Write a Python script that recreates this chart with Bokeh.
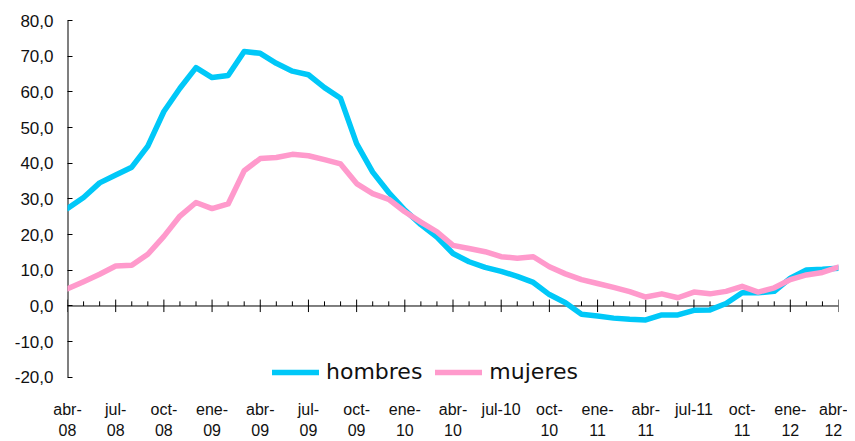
from bokeh.plotting import figure
from bokeh.models import Range1d, FixedTicker, Legend, LegendItem
from bokeh.embed import file_html
from bokeh.resources import INLINE

# Monthly series, abr-08 .. abr-12
months = ["abr-08", "may-08", "jun-08", "jul-08", "ago-08", "sep-08", "oct-08", "nov-08", "dic-08",
          "ene-09", "feb-09", "mar-09", "abr-09", "may-09", "jun-09", "jul-09", "ago-09", "sep-09",
          "oct-09", "nov-09", "dic-09", "ene-10", "feb-10", "mar-10", "abr-10", "may-10", "jun-10",
          "jul-10", "ago-10", "sep-10", "oct-10", "nov-10", "dic-10", "ene-11", "feb-11", "mar-11",
          "abr-11", "may-11", "jun-11", "jul-11", "ago-11", "sep-11", "oct-11", "nov-11", "dic-11",
          "ene-12", "feb-12", "mar-12", "abr-12"]

hombres = [27.3, 30.4, 34.5, 36.7, 38.9, 44.8, 54.5, 61.0, 66.8, 64.0, 64.6, 71.3, 70.8,
           68.0, 65.8, 64.8, 61.2, 58.2, 45.5, 37.5, 31.8, 26.9, 22.8, 19.3, 14.7, 12.4,
           10.8, 9.7, 8.3, 6.6, 3.2, 0.9, -2.3, -2.8, -3.4, -3.7, -3.9, -2.5, -2.5, -1.2,
           -1.1, 0.7, 3.7, 3.7, 4.1, 7.8, 10.1, 10.3, 10.6]

mujeres = [4.8, 6.8, 8.9, 11.2, 11.4, 14.5, 19.5, 25.2, 29.0, 27.3, 28.6, 37.9, 41.3,
           41.6, 42.5, 42.1, 41.0, 39.8, 34.3, 31.5, 29.9, 26.4, 23.5, 20.8, 17.0, 16.1,
           15.2, 13.8, 13.4, 13.8, 11.0, 9.0, 7.4, 6.3, 5.2, 4.0, 2.5, 3.4, 2.3, 3.9,
           3.4, 4.1, 5.5, 3.9, 5.1, 7.4, 8.7, 9.4, 10.9]

x_tick_labels = ["abr-\n08", "jul-\n08", "oct-\n08", "ene-\n09", "abr-\n09", "jul-\n09",
                 "oct-\n09", "ene-\n10", "abr-\n10", "jul-10", "oct-\n10", "ene-\n11",
                 "abr-\n11", "jul-11", "oct-\n11", "ene-\n12", "abr-\n12"]

y_ticks = [-20, -10, 0, 10, 20, 30, 40, 50, 60, 70, 80]
y_tick_labels = ["-20,0", "-10,0", "0,0", "10,0", "20,0", "30,0", "40,0", "50,0",
                 "60,0", "70,0", "80,0"]

x = list(range(len(months)))

p = figure(width=847, height=441, output_backend="svg", toolbar_location=None,
           x_range=Range1d(0, len(months) - 1), y_range=Range1d(-22, 80),
           min_border_left=67, min_border_right=9, min_border_top=20, min_border_bottom=52)
p.outline_line_color = None
p.grid.visible = False
p.background_fill_color = "white"
p.border_fill_color = "white"

# x axis: labels only, placed below the frame
major_x = x[::3]
p.xaxis.ticker = FixedTicker(ticks=major_x)
p.xaxis.major_label_overrides = {i: lab for i, lab in zip(major_x, x_tick_labels)}
p.xaxis.axis_line_color = None
p.xaxis.major_tick_line_color = None
p.xaxis.minor_tick_line_color = None
p.xaxis.major_label_standoff = 10
p.xaxis.major_label_text_font = "Liberation Sans"
p.xaxis.major_label_text_font_size = "16px"
p.xaxis.major_label_text_line_height = 1.25
p.xaxis.major_label_text_color = "#111111"

# y axis (line drawn separately so it stops at -20)
p.yaxis.ticker = FixedTicker(ticks=y_ticks)
p.yaxis.major_label_overrides = {v: lab for v, lab in zip(y_ticks, y_tick_labels)}
p.yaxis.major_tick_in = 5
p.yaxis.major_tick_out = 0
p.yaxis.minor_tick_line_color = None
p.yaxis.axis_line_color = None
p.yaxis.major_tick_line_color = "black"
p.yaxis.major_label_standoff = 14
p.yaxis.major_label_text_font = "Liberation Sans"
p.yaxis.major_label_text_font_size = "17px"
p.yaxis.major_label_text_color = "#111111"
p.segment(x0=[x[0]], y0=[y_ticks[0]], x1=[x[0]], y1=[y_ticks[-1]],
          line_color="black", line_width=2)

# zero line with month ticks
p.line([x[0], x[-1]], [0, 0], line_color="black", line_width=1)
maj = [i for i in x if i % 3 == 0]
mnr = [i for i in x if i % 3 != 0]
p.segment(x0=maj, y0=[-1.7] * len(maj), x1=maj, y1=[1.8] * len(maj),
          line_color="black", line_width=1)
p.segment(x0=mnr, y0=[0] * len(mnr), x1=mnr, y1=[1.3] * len(mnr),
          line_color="black", line_width=1)

r_h = p.line(x, hombres, line_color="#00C8F8", line_width=5.5,
             line_cap="round", line_join="round")
r_m = p.line(x, mujeres, line_color="#FF9ACC", line_width=5.5,
             line_cap="round", line_join="round")

legend = Legend(items=[LegendItem(label="hombres", renderers=[r_h]),
                       LegendItem(label="mujeres", renderers=[r_m])],
                location=(205, 0), orientation="horizontal",
                glyph_width=47, glyph_height=20, label_standoff=7, spacing=13,
                padding=0, margin=0, border_line_alpha=0, background_fill_alpha=0,
                label_text_font="DejaVu Sans", label_text_font_size="22px",
                label_text_color="#111111")
p.add_layout(legend)

open("out.html", "w").write(file_html(p, INLINE))
